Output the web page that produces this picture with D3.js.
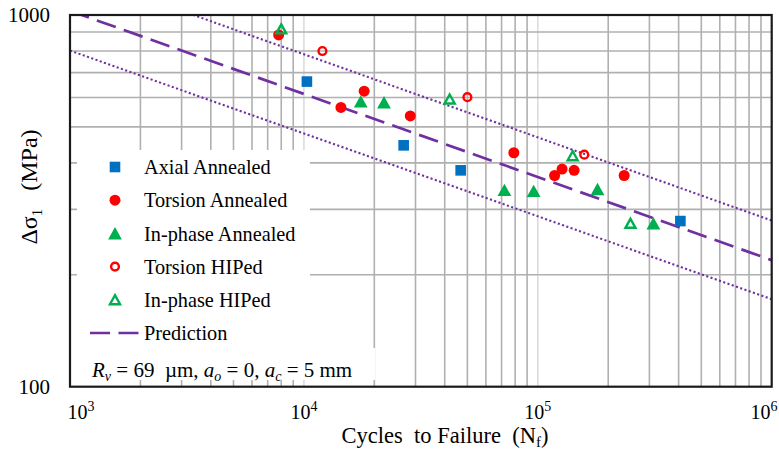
<!DOCTYPE html>
<html>
<head>
  <meta charset="UTF-8">
  <script src="https://d3js.org/d3.v7.min.js"></script>
  <style>
    body { margin: 0; background: #fff; }
    text { font-family: "Liberation Serif", "Times New Roman", serif; fill: #000; white-space: pre; }
  </style>
</head>
<body>
  <svg width="779" height="451"></svg>
  <script>
    // データ
    const axialN = [10300, 26700, 46800, 407000];
    const axialS = [662, 446, 382, 279];
    const torsionN = [7800, 14400, 18100, 28500, 79000, 118000, 127000, 143000, 234000];
    const torsionS = [884, 564, 624, 535, 426, 370, 385, 382, 370];
    const inphaseN = [17500, 22000, 72000, 96000, 180000, 312000];
    const inphaseS = [585, 582, 338, 336, 340, 275];
    const torsionHipN = [12000, 50000, 158000];
    const torsionHipS = [800, 601, 421];
    const inphaseHipN = [8000, 42000, 141000, 249000];
    const inphaseHipS = [917, 594, 418, 275];

    // 予測線（両端）と上下の範囲
    const lineN = [1000, 1000000];
    const predS = [1026, 219];
    const upperS = [1312, 280];
    const lowerS = [802, 172];

    const xTicks = [1e3, 1e4, 1e5, 1e6];
    const yTicks = [100, 1000];

    const svg = d3.select("svg");
    const pL = 70, pR = 771.7, pT = 15, pB = 386.7;

    const x = d3.scaleLog().domain([1e3, 1e6]).range([pL, pR]);
    const y = d3.scaleLog().domain([100, 1000]).range([pB, pT]);

    // クリップ
    svg.append("clipPath").attr("id", "plot")
      .append("rect")
      .attr("x", pL).attr("y", pT)
      .attr("width", pR - pL).attr("height", pB - pT);

    const grid = svg.append("g");

    // 縦グリッド（補助）
    const minorX = [];
    [1e3, 1e4, 1e5].forEach(d => { for (let m = 2; m <= 9; m++) minorX.push(m * d); });
    grid.selectAll(".vx")
      .data(minorX)
      .enter()
      .append("line")
      .attr("x1", d => x(d)).attr("x2", d => x(d))
      .attr("y1", pT).attr("y2", pB)
      .attr("stroke", "#b0b0b0").attr("stroke-width", 1.6);

    // 縦グリッド（主）
    grid.selectAll(".vmaj")
      .data([1e4, 1e5])
      .enter()
      .append("line")
      .attr("x1", d => x(d)).attr("x2", d => x(d))
      .attr("y1", pT).attr("y2", pB)
      .attr("stroke", "#dcdcdc").attr("stroke-width", 1.6);

    // 横グリッド
    const minorY = d3.range(200, 1000, 100);
    grid.selectAll(".hy")
      .data(minorY)
      .enter()
      .append("line")
      .attr("y1", d => y(d)).attr("y2", d => y(d))
      .attr("x1", pL).attr("x2", pR)
      .attr("stroke", "#b0b0b0").attr("stroke-width", 1.6);

    // 予測線
    const lineGen = d3.line().x(d => x(d[0])).y(d => y(d[1]));
    const lines = svg.append("g").attr("clip-path", "url(#plot)");
    lines.append("path")
      .attr("d", lineGen(d3.zip(lineN, predS)))
      .attr("fill", "none").attr("stroke", "#7030A0")
      .attr("stroke-width", 2.7).attr("stroke-dasharray", "20,8.5");
    [upperS, lowerS].forEach(s => {
      lines.append("path")
        .attr("d", lineGen(d3.zip(lineN, s)))
        .attr("fill", "none").attr("stroke", "#7030A0")
        .attr("stroke-width", 2.1).attr("stroke-dasharray", "2.1,2.4");
    });

    // 凡例の背景
    svg.append("rect").attr("x", 77).attr("y", 150).attr("width", 233).attr("height", 230).attr("fill", "#fff");
    svg.append("rect").attr("x", 77).attr("y", 348).attr("width", 298).attr("height", 32).attr("fill", "#fff");

    // マーカー描画関数
    function square(g) {
      g.append("rect").attr("x", -5.3).attr("y", -5.3).attr("width", 10.6).attr("height", 10.6).attr("fill", "#0070C0");
    }
    function dot(g) {
      g.append("circle").attr("r", 5.5).attr("fill", "#FF0000");
    }
    function tri(g) {
      g.append("path").attr("d", "M0,-6.4L6.9,6L-6.9,6Z").attr("fill", "#00B050");
    }
    function ring(g) {
      g.append("circle").attr("r", 3.9).attr("fill", "none").attr("stroke", "#FF0000").attr("stroke-width", 2.4);
    }
    function openTri(g) {
      g.append("path").attr("d", "M0,-4.6L5,4.4L-5,4.4Z").attr("fill", "none")
        .attr("stroke", "#00B050").attr("stroke-width", 2.4).attr("stroke-linejoin", "miter");
    }

    const series = [
      { name: "Axial Annealed", n: axialN, s: axialS, draw: square },
      { name: "Torsion Annealed", n: torsionN, s: torsionS, draw: dot },
      { name: "In-phase Annealed", n: inphaseN, s: inphaseS, draw: tri },
      { name: "Torsion HIPed", n: torsionHipN, s: torsionHipS, draw: ring },
      { name: "In-phase HIPed", n: inphaseHipN, s: inphaseHipS, draw: openTri }
    ];

    // データ点
    series.forEach(sr => {
      svg.append("g").selectAll("g")
        .data(d3.zip(sr.n, sr.s))
        .enter()
        .append("g")
        .attr("transform", d => `translate(${x(d[0])},${y(d[1])})`)
        .each(function () { sr.draw(d3.select(this)); });
    });

    // 枠
    svg.append("rect")
      .attr("x", pL).attr("y", pT)
      .attr("width", pR - pL).attr("height", pB - pT)
      .attr("fill", "none").attr("stroke", "#1a1a1a").attr("stroke-width", 2.2);

    // 凡例
    const legend = svg.append("g");
    const rowH = 33.2, row0 = 167;
    series.forEach((sr, i) => {
      const g = legend.append("g").attr("transform", `translate(115,${row0 + i * rowH})`);
      sr.draw(g);
      legend.append("text")
        .attr("x", 144).attr("y", row0 + i * rowH)
        .attr("dy", "0.35em")
        .attr("font-size", 20.3)
        .text(sr.name);
    });
    const py = row0 + 5 * rowH;
    legend.append("line")
      .attr("x1", 90).attr("x2", 139).attr("y1", py).attr("y2", py)
      .attr("stroke", "#7030A0").attr("stroke-width", 2.7).attr("stroke-dasharray", "20,8.5");
    legend.append("text")
      .attr("x", 144).attr("y", py).attr("dy", "0.35em")
      .attr("font-size", 20.3).text("Prediction");

    // 注記
    const note = svg.append("text").attr("x", 92).attr("y", 377).attr("font-size", 21);
    note.append("tspan").attr("font-style", "italic").text("R");
    note.append("tspan").attr("font-style", "italic").attr("font-size", 14).attr("dy", 4).text("v");
    note.append("tspan").attr("dy", -4).text(" = 69  µm, ");
    note.append("tspan").attr("font-style", "italic").text("a");
    note.append("tspan").attr("font-style", "italic").attr("font-size", 14).attr("dy", 4).text("o");
    note.append("tspan").attr("dy", -4).text(" = 0, ");
    note.append("tspan").attr("font-style", "italic").text("a");
    note.append("tspan").attr("font-style", "italic").attr("font-size", 14).attr("dy", 4).text("c");
    note.append("tspan").attr("dy", -4).text(" = 5 mm");

    // Y目盛ラベル
    svg.selectAll(".ylab")
      .data(yTicks)
      .enter()
      .append("text")
      .attr("x", 50).attr("y", d => y(d)).attr("dy", "0.35em")
      .attr("text-anchor", "end").attr("font-size", 21)
      .text(d => d);

    // X目盛ラベル
    svg.selectAll(".xlab")
      .data(xTicks)
      .enter()
      .append("text")
      .attr("x", d => Math.min(Math.max(x(d), 81), 764))
      .attr("y", 419).attr("text-anchor", "middle").attr("font-size", 20)
      .each(function (d) {
        const t = d3.select(this);
        t.append("tspan").text("10");
        t.append("tspan").attr("font-size", 14).attr("dy", -8).text(Math.round(Math.log10(d)));
      });

    // 軸タイトル
    const xt = svg.append("text").attr("x", 445).attr("y", 443)
      .attr("text-anchor", "middle").attr("font-size", 22.5);
    xt.append("tspan").text("Cycles  to Failure  (N");
    xt.append("tspan").attr("font-size", 15).attr("dy", 4).text("f");
    xt.append("tspan").attr("dy", -4).text(")");

    const yt = svg.append("text")
      .attr("transform", "translate(37,187) rotate(-90)")
      .attr("text-anchor", "middle").attr("font-size", 24);
    yt.append("tspan").text("Δσ");
    yt.append("tspan").attr("font-size", 15).attr("dy", 5).text("1");
    yt.append("tspan").attr("dy", -5).text("   (MPa)");
  </script>
</body>
</html>
